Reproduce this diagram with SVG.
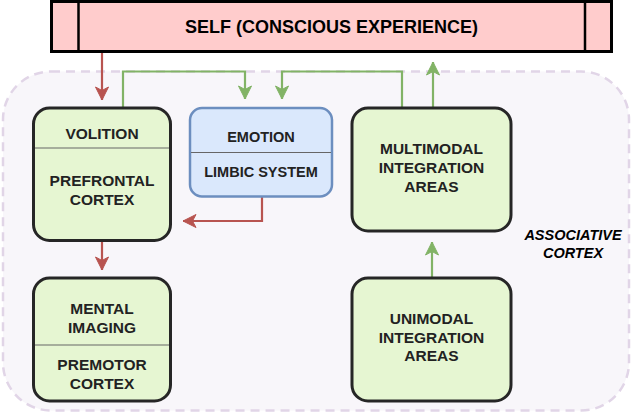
<svg xmlns="http://www.w3.org/2000/svg" width="634" height="413" viewBox="0 0 634 413">
<defs>
<style>
.node{fill:#e6f6d2;stroke:#262626;stroke-width:3}
.blue{fill:#dae8fc;stroke:#6c8ebf;stroke-width:2.5}
.div{stroke:#666;stroke-width:1.2}
.t{font-family:"Liberation Sans",Arial,sans-serif;font-weight:bold;font-size:15.5px;fill:#222;text-anchor:middle}
.te{font-size:14.5px}
.g{fill:none;stroke:#82b366;stroke-width:2.2}
.r{fill:none;stroke:#b85450;stroke-width:2.2}
</style>
<marker id="ag" markerUnits="userSpaceOnUse" markerWidth="16" markerHeight="16" refX="14" refY="7" orient="auto" viewBox="0 0 16 14">
<path d="M14,7 L1,0.5 L4.5,7 L1,13.5 Z" fill="#82b366" stroke="#82b366" stroke-width="1"/>
</marker>
<marker id="ar" markerUnits="userSpaceOnUse" markerWidth="16" markerHeight="16" refX="14" refY="7" orient="auto" viewBox="0 0 16 14">
<path d="M14,7 L1,0.5 L4.5,7 L1,13.5 Z" fill="#b85450" stroke="#b85450" stroke-width="1"/>
</marker>
</defs>
<rect width="634" height="413" fill="#ffffff"/>
<g id="associative-cortex">
<rect x="3" y="71.5" width="626" height="339" rx="48" fill="#f8f6fa" stroke="#e1d5e7" stroke-width="2.5" stroke-dasharray="9 6"/>
<text class="t" x="573" y="240" font-style="italic" font-size="14.5px" fill="#000" style="fill:#000;font-size:14.5px">ASSOCIATIVE</text>
<text class="t" x="573" y="257.5" font-style="italic" style="fill:#000;font-size:14.5px">CORTEX</text>
</g>
<g id="self">
<rect x="51.5" y="1.5" width="560" height="50" fill="#ffcccc" stroke="#000" stroke-width="3"/>
<line x1="78.5" y1="1.5" x2="78.5" y2="51.5" stroke="#000" stroke-width="2.5"/>
<line x1="585" y1="1.5" x2="585" y2="51.5" stroke="#000" stroke-width="2.5"/>
<text class="t" x="331.5" y="33" style="font-size:18px;fill:#000">SELF (CONSCIOUS EXPERIENCE)</text>
</g>
<g id="connectors">
<path class="r" d="M102,53 V100" marker-end="url(#ar)"/>
<path class="r" d="M102,242 V270" marker-end="url(#ar)"/>
<path class="r" d="M262,197 V221 H183" marker-end="url(#ar)"/>
<path class="g" d="M123,107 V71.5 H245 V99" marker-end="url(#ag)"/>
<path class="g" d="M402,107 V71.5 H282 V99" marker-end="url(#ag)"/>
<path class="g" d="M433,107 V62" marker-end="url(#ag)"/>
<path class="g" d="M432,277 V242" marker-end="url(#ag)"/>
</g>
<g id="volition">
<rect class="node" x="33.5" y="108" width="137" height="132.5" rx="16"/>
<line class="div" x1="35" y1="148" x2="169" y2="148"/>
<text class="t" x="102" y="139">VOLITION</text>
<text class="t" x="102" y="186">PREFRONTAL</text>
<text class="t" x="102" y="205">CORTEX</text>
</g>
<g id="emotion">
<rect class="blue" x="190" y="108" width="142" height="88.5" rx="12"/>
<line class="div" x1="191" y1="152.5" x2="331" y2="152.5"/>
<text class="t te" x="261" y="141.5">EMOTION</text>
<text class="t te" x="261" y="176.5">LIMBIC SYSTEM</text>
</g>
<g id="multimodal">
<rect class="node" x="352" y="108" width="159" height="123" rx="16"/>
<text class="t" x="431.5" y="153.5">MULTIMODAL</text>
<text class="t" x="431.5" y="172.5">INTEGRATION</text>
<text class="t" x="431.5" y="191.5">AREAS</text>
</g>
<g id="mental">
<rect class="node" x="33.5" y="278" width="137" height="123" rx="16"/>
<line class="div" x1="35" y1="345" x2="169" y2="345"/>
<text class="t" x="102" y="313.5">MENTAL</text>
<text class="t" x="102" y="333">IMAGING</text>
<text class="t" x="102" y="370">PREMOTOR</text>
<text class="t" x="102" y="389">CORTEX</text>
</g>
<g id="unimodal">
<rect class="node" x="352" y="278" width="159" height="123" rx="16"/>
<text class="t" x="431.5" y="323.5">UNIMODAL</text>
<text class="t" x="431.5" y="342.5">INTEGRATION</text>
<text class="t" x="431.5" y="361">AREAS</text>
</g>
</svg>
